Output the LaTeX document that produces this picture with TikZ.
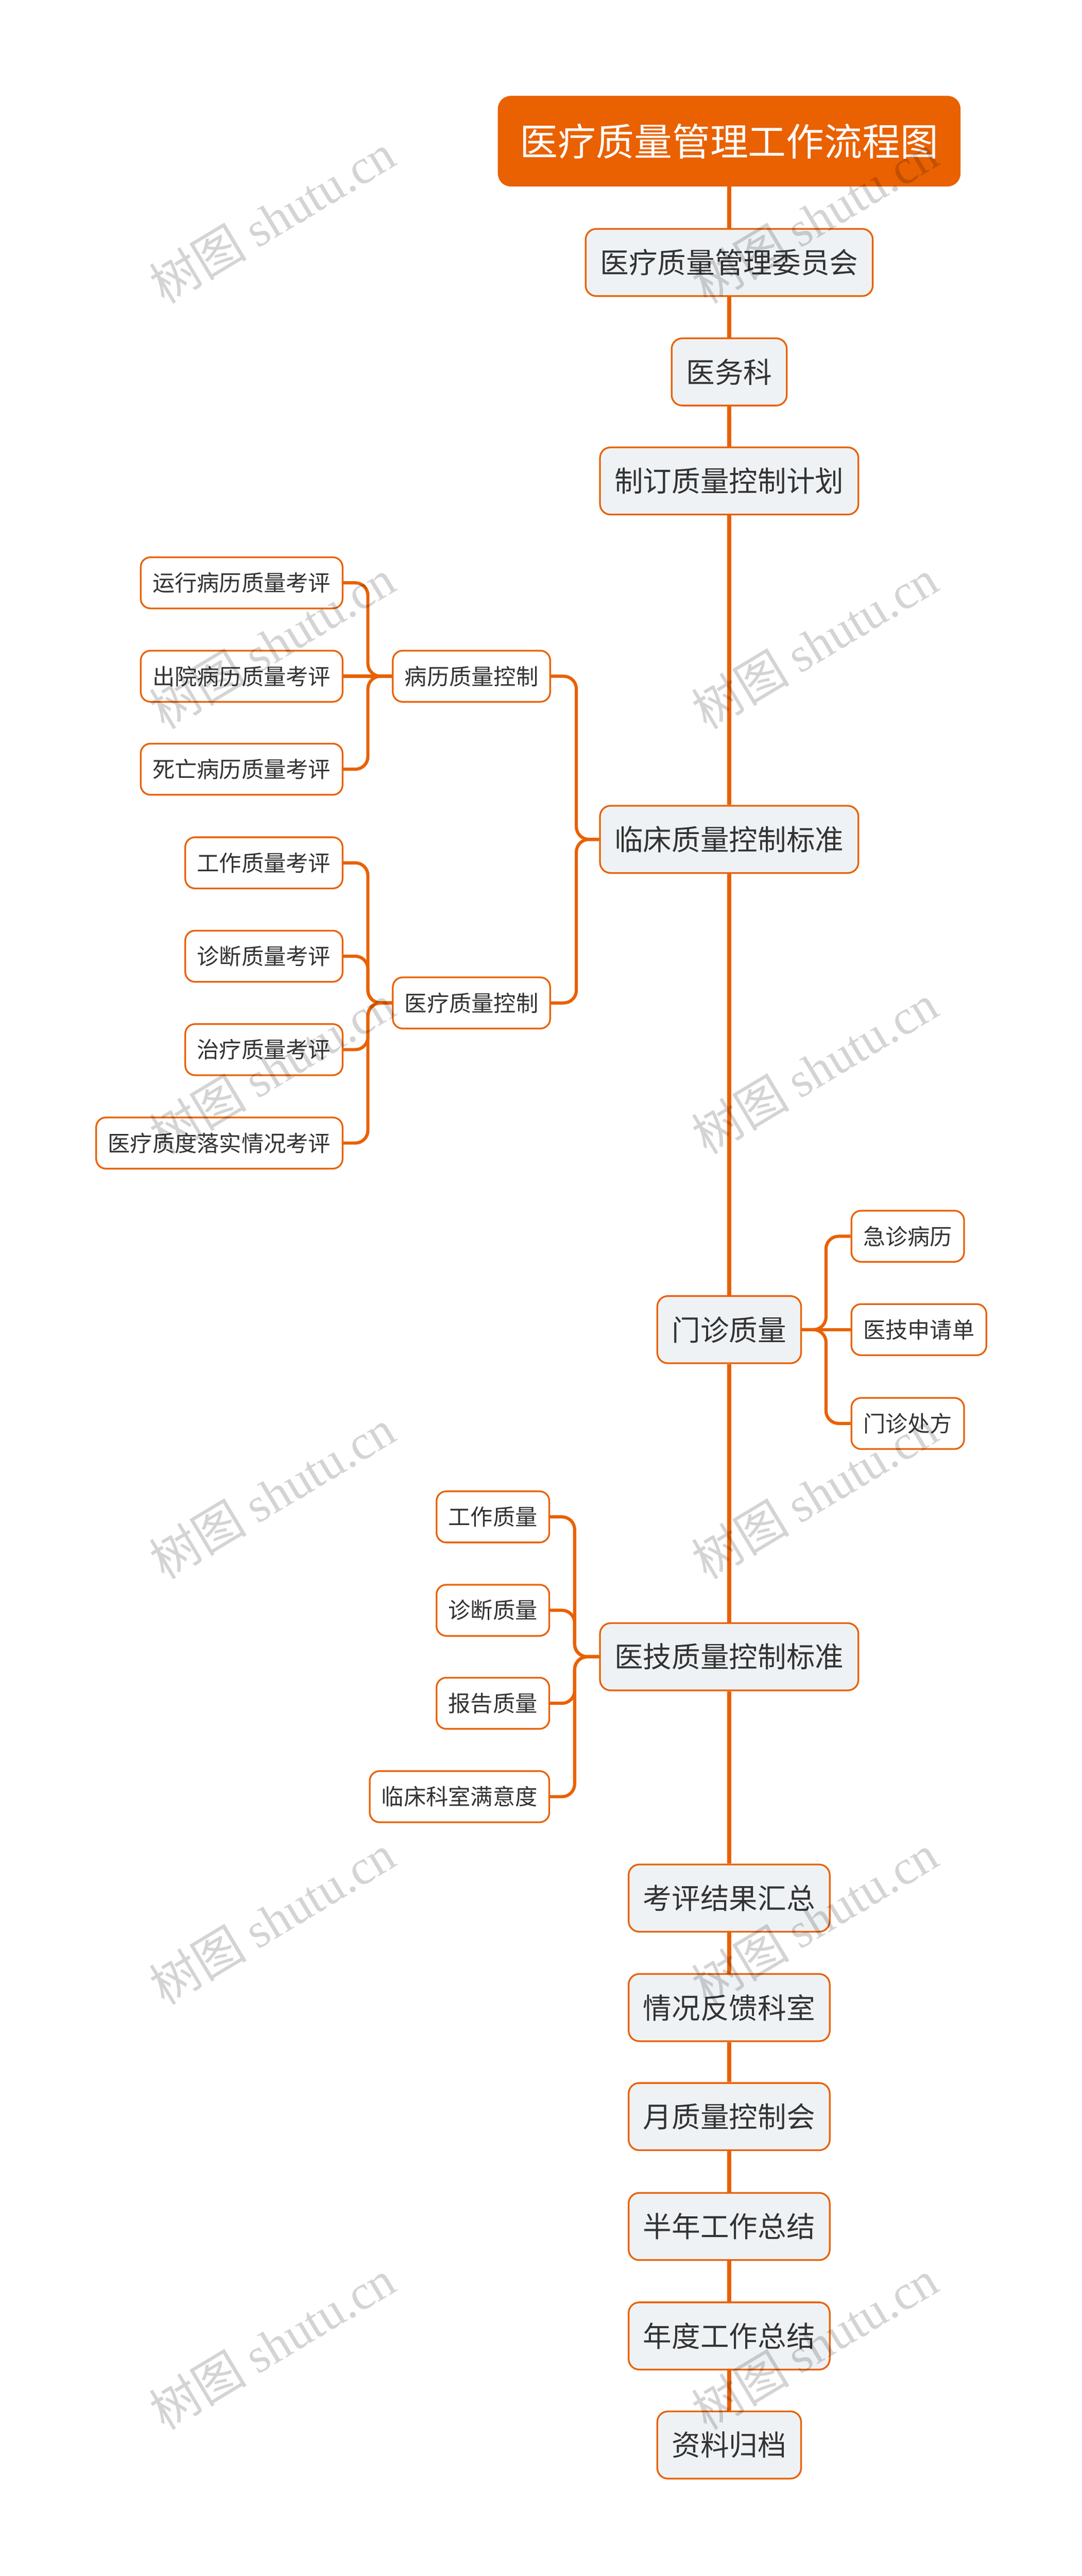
\documentclass[tikz,border=0pt]{standalone}
\usepackage{fontspec}
\setmainfont{Noto Sans CJK SC}
\newfontfamily\wmfont{Liberation Serif}
\usetikzlibrary{positioning}
\definecolor{zhuse}{HTML}{E96100}
\definecolor{huidi}{HTML}{EFF2F5}
\definecolor{wenzi}{HTML}{333333}

\begin{document}
\begin{tikzpicture}
    [
      title/.style=
      {
        rounded corners=3mm,
        fill=zhuse,
        draw=zhuse,
        text=white,
        inner xsep=5.2mm,
        inner ysep=0pt,
        minimum height=21.3mm,
        font=\fontsize{25.6pt}{25.6pt}\selectfont
      },
      main/.style=
      {
        rounded corners=2.5mm,
        fill=huidi,
        draw=zhuse,
        line width=0.4mm,
        text=wenzi,
        inner xsep=3.45mm,
        inner ysep=0pt,
        minimum height=15.9mm,
        font=\fontsize{19.3pt}{19.3pt}\selectfont
      },
      leaf/.style=
      {
        rounded corners=2.3mm,
        fill=white,
        draw=zhuse,
        line width=0.4mm,
        text=wenzi,
        inner xsep=2.8mm,
        inner ysep=0pt,
        minimum height=12.1mm,
        font=\fontsize{15pt}{15pt}\selectfont
      },
      spine/.style=
      {
        draw=zhuse,
        line width=1mm
      },
      branch/.style=
      {
        draw=zhuse,
        line width=0.75mm,
        rounded corners=3mm
      },
      shuiyin/.style=
      {
        rotate=31,
        text=black,
        text opacity=0.17,
        inner sep=0pt,
        font=\fontsize{33pt}{33pt}\selectfont
      }
    ]
    \useasboundingbox (0,0) rectangle (256mm,-609.5mm);

    % spine
    \node[title] (title) at (172.6mm,-33.4mm) {医疗质量管理工作流程图};
    \node[main, below of=title, node distance=28.7mm] (wyh) {医疗质量管理委员会};
    \node[main, below of=wyh, node distance=25.9mm] (ywk) {医务科};
    \node[main, below of=ywk, node distance=25.8mm] (zdjh) {制订质量控制计划};
    \node[main, below of=zdjh, node distance=84.8mm] (lczl) {临床质量控制标准};
    \node[main, below of=lczl, node distance=116mm] (mzzl) {门诊质量};
    \node[main, below of=mzzl, node distance=77.4mm] (yjzl) {医技质量控制标准};
    \node[main, below of=yjzl, node distance=57.1mm] (kpjg) {考评结果汇总};
    \node[main, below of=kpjg, node distance=25.9mm] (qkfk) {情况反馈科室};
    \node[main, below of=qkfk, node distance=25.8mm] (yzl) {月质量控制会};
    \node[main, below of=yzl, node distance=26mm] (bngz) {半年工作总结};
    \node[main, below of=bngz, node distance=25.9mm] (ndgz) {年度工作总结};
    \node[main, below of=ndgz, node distance=25.8mm] (zlgd) {资料归档};

    \foreach \a/\b in {title/wyh, wyh/ywk, ywk/zdjh, zdjh/lczl, lczl/mzzl, mzzl/yjzl,
                       yjzl/kpjg, kpjg/qkfk, qkfk/yzl, yzl/bngz, bngz/ndgz, ndgz/zlgd}
      \draw[spine] (\a.south) -- (\b.north);

    % clinical
    \node[leaf, left=11.4mm of lczl, yshift=38.6mm] (blzl) {病历质量控制};
    \node[leaf, left=11.4mm of lczl, yshift=-38.7mm] (ylzl) {医疗质量控制};
    \node[leaf, left=11.5mm of blzl, yshift=22.1mm] (bl1) {运行病历质量考评};
    \node[leaf, left=11.5mm of blzl] (bl2) {出院病历质量考评};
    \node[leaf, left=11.5mm of blzl, yshift=-22mm] (bl3) {死亡病历质量考评};
    \node[leaf, left=11.5mm of ylzl, yshift=33.15mm] (yl1) {工作质量考评};
    \node[leaf, left=11.5mm of ylzl, yshift=11.05mm] (yl2) {诊断质量考评};
    \node[leaf, left=11.5mm of ylzl, yshift=-11.05mm] (yl3) {治疗质量考评};
    \node[leaf, left=11.5mm of ylzl, yshift=-33.15mm] (yl4) {医疗质度落实情况考评};

    \foreach \c in {blzl, ylzl}
      \draw[branch] (lczl.west) -- ++(-5.4mm,0) |- (\c.east);
    \foreach \c in {bl1, bl3}
      \draw[branch] (blzl.west) -- ++(-5.7mm,0) |- (\c.east);
    \draw[branch] (blzl.west) -- (bl2.east);
    \foreach \c in {yl1, yl2, yl3, yl4}
      \draw[branch] (ylzl.west) -- ++(-5.7mm,0) |- (\c.east);

    % outpatient
    \node[leaf, right=11.5mm of mzzl, yshift=22.1mm] (mz1) {急诊病历};
    \node[leaf, right=11.5mm of mzzl] (mz2) {医技申请单};
    \node[leaf, right=11.5mm of mzzl, yshift=-22.2mm] (mz3) {门诊处方};

    \foreach \c in {mz1, mz3}
      \draw[branch] (mzzl.east) -- ++(5.7mm,0) |- (\c.west);
    \draw[branch] (mzzl.east) -- (mz2.west);

    % medical technology
    \node[leaf, left=11.6mm of yjzl, yshift=33.1mm] (yj1) {工作质量};
    \node[leaf, left=11.6mm of yjzl, yshift=11mm] (yj2) {诊断质量};
    \node[leaf, left=11.6mm of yjzl, yshift=-11mm] (yj3) {报告质量};
    \node[leaf, left=11.6mm of yjzl, yshift=-33.1mm] (yj4) {临床科室满意度};

    \foreach \c in {yj1, yj2, yj3, yj4}
      \draw[branch] (yjzl.west) -- ++(-5.8mm,0) |- (\c.east);

    % watermark
    \foreach \y [count=\i] in {51.7,152.3,252.9,353.5,454.1,554.7}
      \foreach \x [count=\j] in {64.4,192.8}
        \node[shuiyin] (sy\i\j) at (\x mm,-\y mm) {树图 {\wmfont shutu.cn}};
  \end{tikzpicture}
\end{document}
